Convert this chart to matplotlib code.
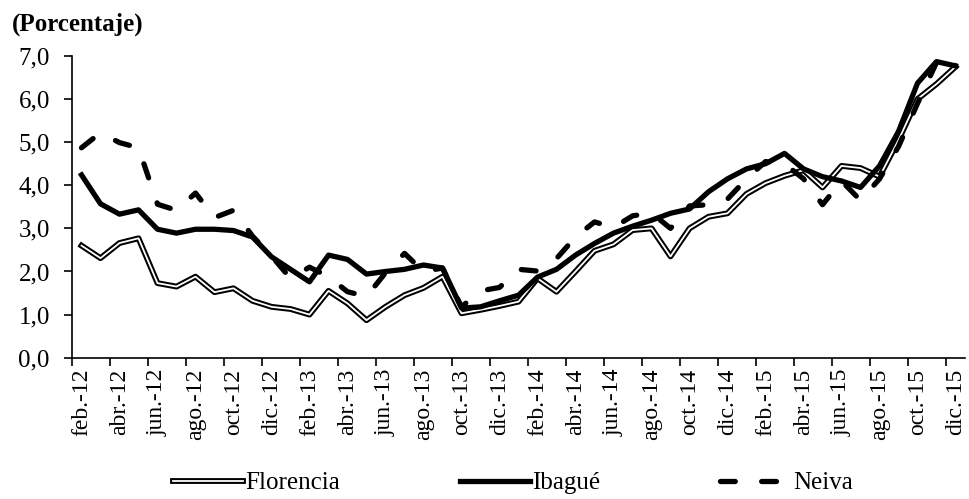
import numpy as np
import matplotlib
matplotlib.use('Agg')
import matplotlib.pyplot as plt
import matplotlib.patheffects as pe

plt.rcParams['font.family'] = ['Liberation Serif', 'DejaVu Serif']

# monthly series, feb-2012 .. dic-2015 (porcentaje)
florencia = [2.60, 2.31, 2.66, 2.77, 1.73, 1.65, 1.88, 1.52, 1.61, 1.32, 1.18, 1.13,
             1.00, 1.55, 1.26, 0.87, 1.18, 1.45, 1.62, 1.88, 1.03, 1.11, 1.20, 1.30,
             1.84, 1.53, 2.00, 2.48, 2.63, 2.96, 3.00, 2.35, 3.00, 3.27, 3.35, 3.80,
             4.05, 4.22, 4.35, 3.95, 4.45, 4.40, 4.20, 5.05, 6.00, 6.35, 6.75]
ibague = [4.24, 3.57, 3.33, 3.43, 2.98, 2.89, 2.98, 2.98, 2.95, 2.80, 2.34, 2.05,
          1.76, 2.38, 2.28, 1.94, 2.00, 2.05, 2.15, 2.08, 1.15, 1.18, 1.32, 1.45,
          1.87, 2.05, 2.38, 2.65, 2.89, 3.05, 3.19, 3.35, 3.45, 3.85, 4.15, 4.38,
          4.50, 4.74, 4.38, 4.20, 4.10, 3.95, 4.45, 5.25, 6.37, 6.87, 6.77]
neiva = [4.87, 5.22, 4.99, 4.87, 3.56, 3.42, 3.82, 3.25, 3.42, 2.82, 2.36, 1.84,
         2.10, 1.88, 1.53, 1.42, 1.97, 2.42, 2.00, 2.08, 1.18, 1.55, 1.63, 2.05,
         2.01, 2.30, 2.80, 3.15, 3.02, 3.29, 3.36, 3.00, 3.52, 3.55, 3.68, 4.15,
         4.55, 4.50, 4.15, 3.55, 4.10, 3.65, 4.15, 4.90, 5.90, 6.85, 6.75]

month_labels = ['feb.', 'abr.', 'jun.', 'ago.', 'oct.', 'dic.']
years = ['12', '13', '14', '15']
tick_labels = [m + '-' + y for y in years for m in month_labels]

x = np.arange(len(florencia))

fig = plt.figure(figsize=(9.69, 4.99), dpi=100)
ax = fig.add_axes([0.0743, 0.2832, 0.9216, 0.6046])

ax.plot(x, florencia, color='white', lw=1.3, solid_joinstyle='round',
        path_effects=[pe.Stroke(linewidth=4.2, foreground='black'), pe.Normal()],
        label='Florencia')
ax.plot(x, ibague, color='black', lw=3.8, solid_joinstyle='round', label='Ibagué')
ax.plot(x, neiva, color='black', lw=3.8, dashes=(2.8, 5.0), dash_capstyle='round',
        label='Neiva')

ax.set_xlim(-0.5, len(x) - 0.5)
ax.set_ylim(0, 7)

# tick marks at category boundaries, labels at every second month
ax.set_xticks(np.arange(-0.5, len(x) - 1, 2))
ax.set_xticklabels([])
ax.set_xticks(x[::2], minor=True)
ax.set_xticklabels(tick_labels, minor=True, rotation=90, fontsize=17)
ax.tick_params(axis='x', which='major', direction='out', length=6, width=1.2)
ax.tick_params(axis='x', which='minor', length=0, pad=8)

ax.set_yticks(range(8))
ax.set_yticklabels(['%d,0' % v for v in range(8)], fontsize=18)
ax.tick_params(axis='y', direction='out', length=6, width=1.2, pad=10)

for s in ['top', 'right']:
    ax.spines[s].set_visible(False)
for s in ['left', 'bottom']:
    ax.spines[s].set_linewidth(1.2)

fig.text(0.012, 0.952, '(Porcentaje)', fontsize=18, fontweight='bold',
         ha='left', va='center')

ax.legend(loc='center', bbox_to_anchor=(0.529, 0.032), bbox_transform=fig.transFigure,
          ncol=3, frameon=False, fontsize=18, handlelength=2.8, handletextpad=0.1,
          columnspacing=4.8)

fig.savefig('out.png', dpi=100)
